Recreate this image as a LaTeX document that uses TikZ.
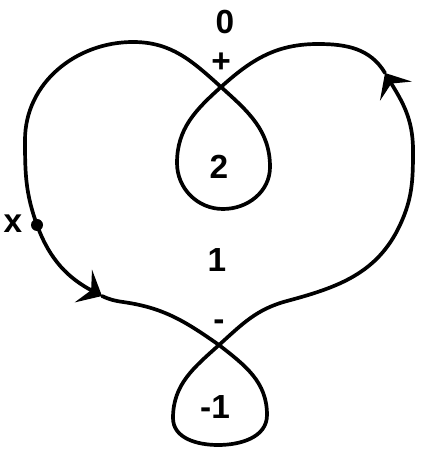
\documentclass[tikz,border=0pt]{standalone}
\usepackage{fontspec}
\setmainfont{Liberation Sans}
\usetikzlibrary{arrows.meta, positioning}

\begin{document}
\begin{tikzpicture}[
    every node/.style={font=\fontsize{19}{22}\selectfont\bfseries},
    strand/.style={line width=2.1pt, line cap=round, line join=round},
    tip/.style={-{Stealth[length=12pt, width=21pt, inset=5pt]}},
    pt/.style={circle, fill, inner sep=0pt, minimum size=0.24cm},
]
\useasboundingbox (0,0) rectangle (8.5,9.1);

% ── Points on the curve ───────────────────────────────────────────────
\node[pt] (xdot) at (0.74,4.60) {};
\coordinate (a1) at (2.04,3.18);   % first arrow
\coordinate (s1) at (2.46,3.06);
\coordinate (c2) at (4.38,2.20);   % lower crossing
\coordinate (l1) at (5.34,0.80);
\coordinate (l2) at (4.36,0.20);
\coordinate (l3) at (3.46,0.74);
\coordinate (s2) at (5.74,3.08);
\coordinate (r1) at (8.00,4.60);
\coordinate (r2) at (8.26,6.10);
\coordinate (a2) at (7.70,7.64);   % second arrow
\coordinate (r3) at (6.36,8.22);
\coordinate (c1) at (4.42,7.36);   % upper crossing
\coordinate (u1) at (3.54,5.84);
\coordinate (u2) at (4.46,4.92);
\coordinate (u3) at (5.40,5.76);
\coordinate (t1) at (2.66,8.26);
\coordinate (t2) at (0.50,6.30);

% ── The curve ─────────────────────────────────────────────────────────
\draw[strand, tip] (xdot.center) to[out=-70, in=152] (a1);
\draw[strand, tip] (a1) to[out=-25, in=172] (s1)
    to[out=-8, in=145] (c2)
    to[out=-38, in=90] (l1)
    to[out=-90, in=0] (l2)
    to[out=180, in=-90] (l3)
    to[out=90, in=-138] (c2)
    to[out=42, in=195] (s2)
    to[out=15, in=-115] (r1)
    to[out=65, in=-90] (r2)
    to[out=90, in=-59] (a2);
\draw[strand] (a2) to[out=121, in=0] (r3)
    to[out=180, in=42] (c1)
    to[out=-138, in=90] (u1)
    to[out=-90, in=180] (u2)
    to[out=0, in=-90] (u3)
    to[out=90, in=-42] (c1)
    to[out=138, in=0] (t1)
    to[out=180, in=90] (t2)
    to[out=-90, in=110] (xdot.center);

% ── Labels ────────────────────────────────────────────────────────────
\node (lab0)     at (4.50,8.66) {0};
\node (labplus)  at (4.42,7.84) {+};
\node (lab2)     at (4.38,5.76) {2};
\node (labx)     at (0.26,4.62) {x};
\node (lab1)     at (4.34,3.90) {1};
\node (labminus) at (4.38,2.60) {-};
\node (labm1)    at (4.30,0.96) {-1};

\end{tikzpicture}
\end{document}
